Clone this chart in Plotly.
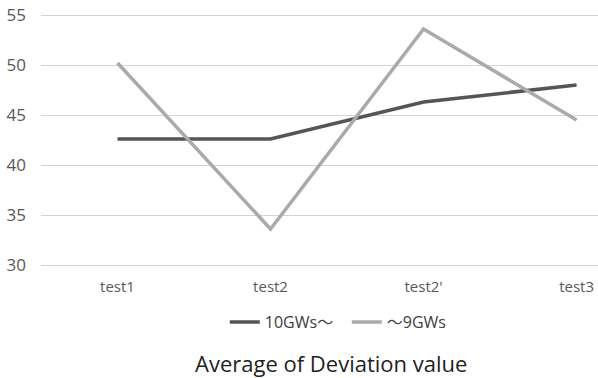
import plotly.graph_objects as go

categories = ["test1", "test2", "test2'", "test3"]
series_10gws = [42.6, 42.6, 46.3, 48.0]
series_9gws = [50.2, 33.6, 53.6, 44.5]
y_ticks = [30, 35, 40, 45, 50, 55]

FONT = "Open Sans, Noto Sans CJK JP, sans-serif"

fig = go.Figure()
fig.add_trace(go.Scatter(x=list(range(len(categories))), y=series_10gws, mode="lines",
                         name="10GWs～", line=dict(color="#555555", width=3.5)))
fig.add_trace(go.Scatter(x=list(range(len(categories))), y=series_9gws, mode="lines",
                         name="～9GWs", line=dict(color="#AAAAAA", width=3.5)))

fig.update_layout(
    width=598, height=378,
    margin=dict(l=41, r=0, t=10, b=108),
    paper_bgcolor="white", plot_bgcolor="white",
    font=dict(family=FONT, color="#595959", size=15),
    xaxis=dict(range=[-0.5, 3.14], tickmode="array", tickvals=list(range(len(categories))),
               ticktext=categories, showgrid=False, zeroline=False, showline=False,
               ticks="", ticklabelstandoff=6, tickfont=dict(size=15, color="#595959")),
    yaxis=dict(range=[29.5, 55.5], tickvals=y_ticks, showgrid=True, gridcolor="#D4D4D4",
               gridwidth=1, zeroline=False, showline=False, ticks="", ticklabelstandoff=14,
               tickfont=dict(size=17, color="#595959")),
    legend=dict(orientation="h", x=0.33, xanchor="left", y=-0.2, yanchor="middle",
                entrywidth=77, entrywidthmode="pixels",
                font=dict(size=16, color="#404040"), bgcolor="rgba(0,0,0,0)"),
    showlegend=True,
    annotations=[dict(text="Average of Deviation value", xref="paper", yref="paper",
                      x=0.52, y=-0.358, xanchor="center", yanchor="middle", showarrow=False,
                      font=dict(size=22, color="#1F1F1F", family=FONT))],
)

fig.write_html("out.html")
